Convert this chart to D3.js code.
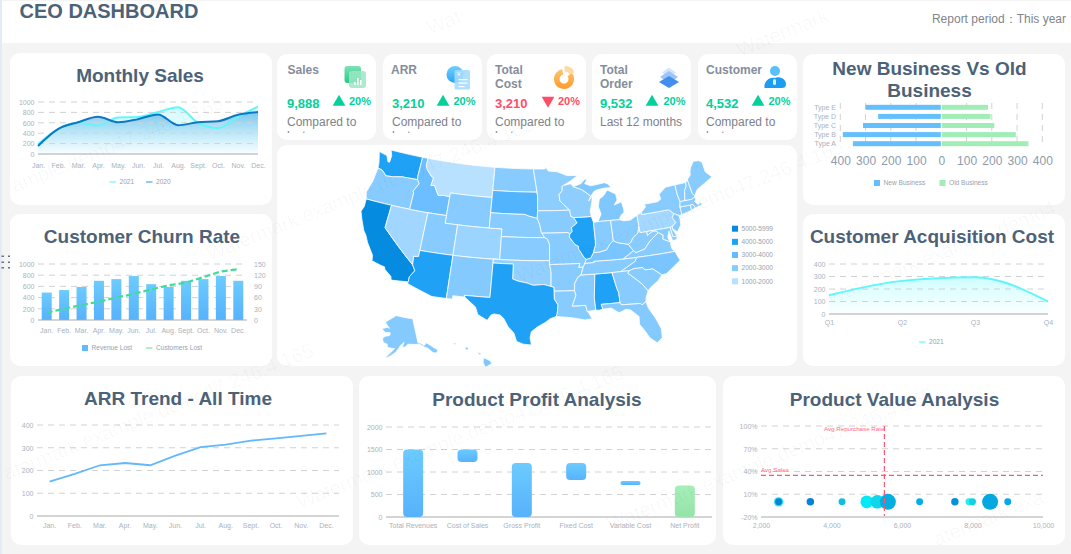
<!DOCTYPE html>
<html>
<head>
<meta charset="utf-8">
<script src="https://cdn.jsdelivr.net/npm/d3@7"></script>
<style>
  html, body { margin: 0; padding: 0; background: #f4f4f4; overflow: hidden; }
  text { font-family: "Liberation Sans", Arial, sans-serif; }
</style>
</head>
<body>
<svg id="board" width="1071" height="554"></svg>
<script>
var months = ['Jan.', 'Feb.', 'Mar.', 'Apr.', 'May.', 'Jun.', 'Jul.', 'Aug.', 'Sept.', 'Oct.', 'Nov.', 'Dec.'];

var sales2021 = [190, 480, 600, 550, 700, 710, 806, 900, 600, 500, 720, 910];
var sales2020 = [155, 480, 610, 716, 610, 670, 760, 555, 610, 630, 755, 806];

var revenueLost = [490, 535, 590, 700, 730, 785, 640, 590, 700, 730, 785, 700];
var customersLost = [20, 30, 40, 49, 60, 70, 82, 93, 100, 115, 130, 136];

var arrTrend = [151, 185, 223, 233, 223, 265, 303, 314, 331, 341, 352, 363];

var kpiTitles = [['Sales'], ['ARR'], ['Total', 'Cost'], ['Total', 'Order'], ['Customer']];
var kpiValues = ['9,888', '3,210', '3,210', '9,532', '4,532'];
var kpiDeltas = ['20%', '20%', '20%', '20%', '20%'];
var kpiRising = [true, true, false, true, true];
var kpiNotes = [['Compared to', 'last year'], ['Compared to', 'last year'], ['Compared to', 'last year'], ['Last 12 months'], ['Compared to', 'last year']];

var businessTypes = ['Type A', 'Type B', 'Type C', 'Type D', 'Type E'];
var newBusiness = [350, 390, 310, 250, 300];
var oldBusiness = [345, 295, 210, 195, 185];

var quarters = ['Q1', 'Q2', 'Q3', 'Q4'];
var acquisitionCost = [150, 265, 295, 100];

var profitItems = ['Total Revenues', 'Cost of Sales', 'Gross Profit', 'Fixed Cost', 'Variable Cost', 'Net Profit'];
var profitFrom = [0, 1225, 0, 820, 710, 0];
var profitTo = [1500, 1500, 1200, 1200, 800, 700];

var bubbleSales = [2500, 2500, 3400, 4300, 5000, 5300, 5600, 6500, 7500, 7900, 8000, 8500, 9000];
var bubbleRepurchase = [0, 0, 0, 0, 0, 0, 0, 0, 0, 0, 0, 0, 0];
var bubbleSize = [22, 12, 14, 12, 40, 46, 64, 12, 14, 12, 12, 64, 12];
var bubbleColors = ['#25e6f5', '#0a82d6', '#0583d4', '#12bde2', '#05e8f5', '#10d6ea', '#03aee0', '#06aee6', '#0490dc', '#25eef2', '#10d2e6', '#03a8e0', '#06a8e6'];
var avgSales = 5500;
var avgRepurchase = 35;

var mapLegendLabels = ['5000-5999', '4000-5000', '3000-4000', '2000-3000', '1000-2000'];
var mapLegendColors = ['#058ce0', '#1fa2f5', '#66bbff', '#88ccff', '#b8e0ff'];

var stateValues = {
  CA: 5500, WA: 4500, AZ: 4500, TX: 4500, IL: 4500, AL: 4500, SD: 3800, ID: 3300, MT: 1500, NV: 2000,
  OR: 2500, WY: 2500, UT: 2500, CO: 2100, NM: 2600, ND: 2500, NE: 2500, KS: 2500, OK: 2300, MN: 2400,
  IA: 2500, MO: 2500, AR: 2500, LA: 2500, MS: 2500, TN: 2500, KY: 2900, IN: 2500, OH: 2500, MI: 2800,
  WI: 2400, GA: 2500, FL: 2600, SC: 2500, NC: 2900, VA: 2500, WV: 2500, PA: 1900, NY: 2500, NJ: 2500,
  MD: 2500, DE: 2500, CT: 2500, RI: 2500, MA: 2500, VT: 2500, NH: 2500, ME: 2500, AK: 2600, HI: 2800
};

// coarse state outlines as lon/lat rings, neighbours share their border points
var stateRings = {
  WA: [[[-124.7, 48.4], [-123.2, 48.15], [-122.7, 47.4], [-122.4, 47.4], [-122.4, 48.3], [-122.8, 49], [-117.03, 49], [-117.04, 46.4], [-116.92, 45.99], [-119, 45.93], [-119.6, 45.92], [-121.2, 45.65], [-122.3, 45.55], [-122.8, 45.9], [-123.2, 46.15], [-124, 46.27], [-124.1, 46.9]]],
  OR: [[[-124, 46.27], [-123.2, 46.15], [-122.8, 45.9], [-122.3, 45.55], [-121.2, 45.65], [-119.6, 45.92], [-119, 45.93], [-116.92, 45.99], [-116.5, 45.5], [-117.2, 44.4], [-117.03, 44.2], [-117.03, 42], [-120, 42], [-124.2, 42], [-124.55, 42.85], [-124.1, 44.5]]],
  CA: [[[-124.2, 42], [-120, 42], [-120, 39], [-114.63, 35], [-114.14, 34.3], [-114.72, 33.4], [-114.72, 32.72], [-117.12, 32.53], [-117.3, 33], [-118.4, 33.75], [-118.5, 34.03], [-119.2, 34.15], [-120.5, 34.45], [-120.65, 35.15], [-121.9, 36.6], [-122.5, 37.5], [-123, 38], [-123.8, 39.3], [-124.35, 40.3], [-124.1, 41]]],
  NV: [[[-120, 42], [-117.03, 42], [-114.04, 42], [-114.04, 37], [-114.04, 36.2], [-114.75, 36.1], [-114.63, 35], [-120, 39]]],
  ID: [[[-117.03, 49], [-116.05, 49], [-116.05, 48], [-115.7, 47.5], [-114.7, 46.7], [-114.35, 46.65], [-114.5, 45.55], [-113.9, 45.65], [-113.45, 45.05], [-113, 44.45], [-112, 44.55], [-111.05, 44.48], [-111.05, 42], [-114.04, 42], [-117.03, 42], [-117.03, 44.2], [-117.2, 44.4], [-116.5, 45.5], [-116.92, 45.99], [-117.04, 46.4]]],
  MT: [[[-116.05, 49], [-104.05, 49], [-104.05, 45.94], [-104.05, 45], [-111.05, 45], [-111.05, 44.48], [-112, 44.55], [-113, 44.45], [-113.45, 45.05], [-113.9, 45.65], [-114.5, 45.55], [-114.35, 46.65], [-114.7, 46.7], [-115.7, 47.5], [-116.05, 48]]],
  WY: [[[-111.05, 45], [-104.05, 45], [-104.05, 43], [-104.05, 41], [-109.05, 41], [-111.05, 41], [-111.05, 42], [-111.05, 44.48]]],
  UT: [[[-114.04, 42], [-111.05, 42], [-111.05, 41], [-109.05, 41], [-109.05, 37], [-114.04, 37]]],
  CO: [[[-109.05, 41], [-104.05, 41], [-102.05, 41], [-102.05, 40], [-102.05, 37], [-103, 37], [-109.05, 37]]],
  AZ: [[[-114.04, 37], [-109.05, 37], [-109.05, 31.33], [-111.07, 31.33], [-114.8, 32.5], [-114.72, 32.72], [-114.72, 33.4], [-114.14, 34.3], [-114.63, 35], [-114.75, 36.1], [-114.04, 36.2]]],
  NM: [[[-109.05, 37], [-103, 37], [-103, 36.5], [-103.04, 32], [-106.62, 32], [-106.53, 31.78], [-108.2, 31.78], [-108.2, 31.33], [-109.05, 31.33]]],
  ND: [[[-104.05, 49], [-97.23, 49], [-96.56, 45.94], [-104.05, 45.94]]],
  SD: [[[-104.05, 45.94], [-96.56, 45.94], [-96.45, 45.3], [-96.45, 43.5], [-96.5, 42.5], [-97.9, 42.8], [-98.5, 43], [-104.05, 43], [-104.05, 45]]],
  NE: [[[-104.05, 43], [-98.5, 43], [-97.9, 42.8], [-96.5, 42.5], [-96.1, 41.7], [-95.85, 40.7], [-95.31, 40], [-102.05, 40], [-102.05, 41], [-104.05, 41]]],
  KS: [[[-102.05, 40], [-95.31, 40], [-94.9, 39.8], [-94.6, 39.1], [-94.62, 37], [-103, 37], [-102.05, 37]]],
  OK: [[[-103, 37], [-94.62, 37], [-94.62, 36.5], [-94.43, 35.4], [-94.48, 33.64], [-95.5, 33.9], [-97, 33.8], [-98, 34.1], [-99.2, 34.3], [-100, 34.56], [-100, 36.5], [-103, 36.5]]],
  TX: [[[-106.62, 32], [-103.04, 32], [-103, 36.5], [-100, 36.5], [-100, 34.56], [-99.2, 34.3], [-98, 34.1], [-97, 33.8], [-95.5, 33.9], [-94.48, 33.64], [-94.04, 33.55], [-94.04, 33.02], [-94.04, 32], [-93.55, 31.2], [-93.7, 30.1], [-93.85, 29.7], [-94.7, 29.4], [-95.4, 28.9], [-96.4, 28.35], [-97.2, 27.7], [-97.35, 26.9], [-97.15, 25.96], [-98.2, 26.05], [-99.1, 26.4], [-99.5, 27.5], [-100.3, 28.3], [-100.95, 29.35], [-101.45, 29.77], [-102.3, 29.88], [-102.7, 29.7], [-103.15, 28.98], [-104.5, 29.65], [-104.9, 30.6], [-106.53, 31.78]]],
  MN: [[[-97.23, 49], [-95.15, 49], [-95.15, 49.38], [-94.6, 48.72], [-93, 48.6], [-91.4, 48.05], [-89.5, 48], [-90.8, 47.3], [-92.1, 46.75], [-92.29, 46.65], [-92.29, 46.1], [-92.85, 45.6], [-92.75, 44.75], [-91.22, 43.5], [-96.45, 43.5], [-96.45, 45.3], [-96.56, 45.94]]],
  IA: [[[-96.45, 43.5], [-91.22, 43.5], [-91.1, 42.7], [-90.65, 42.5], [-90.15, 41.8], [-91.1, 41.2], [-91, 40.7], [-91.4, 40.38], [-91.7, 40.6], [-95.77, 40.58], [-95.85, 40.7], [-96.1, 41.7], [-96.5, 42.5]]],
  MO: [[[-95.77, 40.58], [-91.7, 40.6], [-91.4, 40.38], [-91.5, 40], [-90.7, 39], [-90.2, 38.75], [-90.2, 38.4], [-89.5, 37.3], [-89.15, 37], [-89.4, 36.5], [-89.7, 36], [-90.37, 36], [-90.15, 36.5], [-94.62, 36.5], [-94.62, 37], [-94.6, 39.1], [-94.9, 39.8], [-95.31, 40]]],
  AR: [[[-94.62, 36.5], [-90.15, 36.5], [-90.37, 36], [-89.7, 36], [-90.1, 35], [-90.6, 34.7], [-91.1, 33.9], [-91.17, 33], [-94.04, 33.02], [-94.04, 33.55], [-94.48, 33.64], [-94.43, 35.4]]],
  LA: [[[-94.04, 33.02], [-91.17, 33], [-91, 32.4], [-91.6, 31], [-89.73, 31], [-89.6, 30.2], [-89.4, 30], [-89, 29.2], [-90, 29.1], [-91.3, 29.4], [-92.3, 29.55], [-93.85, 29.7], [-93.7, 30.1], [-93.55, 31.2], [-94.04, 32]]],
  MS: [[[-91.17, 33], [-91.1, 33.9], [-90.6, 34.7], [-90.1, 35], [-88.2, 35], [-88.1, 34.9], [-88.47, 31.9], [-88.4, 30.3], [-89.6, 30.2], [-89.73, 31], [-91.6, 31], [-91, 32.4]]],
  AL: [[[-88.2, 35], [-85.6, 35], [-85.18, 32.87], [-85, 32.3], [-85, 31], [-87.6, 31], [-87.45, 30.35], [-88, 30.25], [-88.4, 30.3], [-88.47, 31.9], [-88.1, 34.9]]],
  TN: [[[-90.1, 35], [-89.7, 36], [-89.4, 36.5], [-88.05, 36.5], [-88.07, 36.68], [-83.68, 36.6], [-81.68, 36.59], [-82, 36.1], [-84.32, 35], [-85.6, 35], [-88.2, 35]]],
  KY: [[[-89.4, 36.5], [-89.15, 37], [-88.5, 37.1], [-88, 37.8], [-87.1, 37.8], [-86, 38], [-85.4, 38.7], [-84.8, 39.1], [-84.2, 38.8], [-82.6, 38.4], [-82, 37.5], [-83.68, 36.6], [-88.07, 36.68], [-88.05, 36.5]]],
  IL: [[[-90.65, 42.5], [-87.8, 42.5], [-87.55, 41.7], [-87.53, 39.35], [-87.6, 38.7], [-88, 37.8], [-88.5, 37.1], [-89.15, 37], [-89.5, 37.3], [-90.2, 38.4], [-90.2, 38.75], [-90.7, 39], [-91.5, 40], [-91.4, 40.38], [-91, 40.7], [-91.1, 41.2], [-90.15, 41.8]]],
  WI: [[[-92.29, 46.65], [-92.1, 46.75], [-90.8, 46.95], [-90.4, 46.55], [-89, 46.1], [-87.8, 45.35], [-87.6, 45.1], [-88, 44.55], [-87.3, 45.2], [-87.5, 44.3], [-87.9, 43.2], [-87.8, 42.5], [-90.65, 42.5], [-91.1, 42.7], [-91.22, 43.5], [-92.75, 44.75], [-92.85, 45.6], [-92.29, 46.1]]],
  MI: [[[-86.82, 41.76], [-84.8, 41.76], [-83.45, 41.73], [-83.1, 42.2], [-82.5, 42.6], [-82.45, 43], [-82.65, 44], [-83.9, 43.7], [-83.3, 44.3], [-83.4, 45.1], [-84.7, 45.75], [-85.5, 45], [-86.2, 44.7], [-86.5, 43.7], [-86.2, 42.7]],
    [[-90.4, 46.55], [-89, 46.9], [-88.4, 47.4], [-87.9, 47.45], [-88.4, 46.85], [-87.4, 46.5], [-86, 46.65], [-85, 46.75], [-84.4, 46.5], [-84, 46], [-85, 46.05], [-86.5, 45.9], [-87, 45.7], [-87.6, 45.1], [-87.8, 45.35], [-89, 46.1]]],
  IN: [[[-87.55, 41.7], [-86.82, 41.76], [-84.8, 41.76], [-84.8, 39.1], [-85.4, 38.7], [-86, 38], [-87.1, 37.8], [-88, 37.8], [-87.6, 38.7], [-87.53, 39.35]]],
  OH: [[[-84.8, 41.76], [-83.45, 41.73], [-82.7, 41.5], [-81.7, 41.5], [-80.52, 42], [-80.52, 40.64], [-80.85, 39.7], [-81.7, 39.2], [-82.2, 38.6], [-82.6, 38.4], [-84.2, 38.8], [-84.8, 39.1]]],
  WV: [[[-80.52, 40.64], [-80.52, 39.72], [-79.48, 39.72], [-79.48, 39.2], [-78.8, 39.55], [-78.2, 39.65], [-77.75, 39.33], [-78.35, 39], [-79.3, 38.4], [-80.3, 37.5], [-81.68, 37.2], [-82, 37.5], [-82.6, 38.4], [-82.2, 38.6], [-81.7, 39.2], [-80.85, 39.7]]],
  VA: [[[-83.68, 36.6], [-82, 37.5], [-81.68, 37.2], [-80.3, 37.5], [-79.3, 38.4], [-78.35, 39], [-77.75, 39.33], [-77.1, 38.9], [-77.3, 38.4], [-76.3, 37.9], [-76.3, 37], [-75.95, 36.55], [-81.68, 36.59]]],
  NC: [[[-81.68, 36.59], [-75.95, 36.55], [-75.5, 35.3], [-76.5, 34.7], [-77.9, 33.9], [-78.55, 33.85], [-79.67, 34.8], [-80.8, 34.82], [-81.05, 35.15], [-82.3, 35.2], [-83.1, 35], [-84.32, 35], [-82, 36.1]]],
  SC: [[[-83.1, 35], [-82.3, 35.2], [-81.05, 35.15], [-80.8, 34.82], [-79.67, 34.8], [-78.55, 33.85], [-79.2, 33.2], [-80.4, 32.5], [-80.9, 32.05], [-81.5, 33], [-82.5, 33.95], [-83.35, 34.7]]],
  GA: [[[-85.6, 35], [-84.32, 35], [-83.1, 35], [-83.35, 34.7], [-82.5, 33.95], [-81.5, 33], [-80.9, 32.05], [-81.3, 31.3], [-81.45, 30.72], [-82.05, 30.36], [-82.2, 30.57], [-84.86, 30.7], [-85, 31], [-85, 32.3], [-85.18, 32.87]]],
  FL: [[[-87.6, 31], [-85, 31], [-84.86, 30.7], [-82.2, 30.57], [-82.05, 30.36], [-81.45, 30.72], [-81.25, 29.8], [-80.55, 28.4], [-80.05, 26.9], [-80.15, 25.7], [-80.9, 25.15], [-81.75, 25.95], [-82.2, 26.9], [-82.8, 27.9], [-82.7, 28.9], [-83.7, 29.9], [-84.3, 30.05], [-85.3, 29.7], [-86.3, 30.4], [-87.45, 30.35]]],
  PA: [[[-80.52, 42], [-79.76, 42.25], [-79.76, 42], [-75.35, 42], [-74.7, 41.36], [-75.15, 40.9], [-74.75, 40.2], [-75.4, 39.8], [-75.8, 39.72], [-79.48, 39.72], [-80.52, 39.72], [-80.52, 40.64]]],
  NY: [[[-79.76, 42.25], [-78.9, 42.9], [-79.05, 43.27], [-76.8, 43.3], [-76.2, 43.55], [-76.3, 44.2], [-75, 44.95], [-73.35, 45], [-73.4, 43.6], [-73.25, 42.75], [-73.5, 42.05], [-73.5, 41.1], [-73.65, 41], [-74, 41], [-74.7, 41.36], [-75.35, 42], [-79.76, 42]],
    [[-74, 40.6], [-72, 41.05], [-73.6, 40.6]]],
  NJ: [[[-74.7, 41.36], [-74, 41], [-74, 40.45], [-74.1, 39.75], [-74.9, 38.95], [-75.5, 39.5], [-75.4, 39.8], [-74.75, 40.2], [-75.15, 40.9]]],
  MD: [[[-79.48, 39.72], [-75.8, 39.72], [-75.7, 38.46], [-75.05, 38.45], [-75.25, 38.03], [-75.9, 37.95], [-76.1, 39.3], [-76.5, 38.5], [-76.3, 37.9], [-77.3, 38.4], [-77.1, 38.9], [-77.75, 39.33], [-78.2, 39.65], [-78.8, 39.55], [-79.48, 39.2]]],
  DE: [[[-75.8, 39.72], [-75.4, 39.8], [-75.55, 39.45], [-75.05, 38.45], [-75.7, 38.46]]],
  CT: [[[-73.5, 42.05], [-71.8, 42.02], [-71.85, 41.32], [-73.65, 41], [-73.5, 41.1]]],
  RI: [[[-71.8, 42.02], [-71.38, 42.02], [-71.15, 41.5], [-71.85, 41.32]]],
  MA: [[[-73.25, 42.75], [-72.45, 42.73], [-71.3, 42.7], [-70.85, 42.87], [-70.65, 42.6], [-71, 42.3], [-70.55, 41.8], [-70.2, 42.05], [-69.95, 41.7], [-71.15, 41.5], [-71.38, 42.02], [-71.8, 42.02], [-73.5, 42.05]]],
  VT: [[[-73.35, 45], [-71.5, 45], [-71.6, 44.5], [-72.05, 44], [-72.45, 42.73], [-73.25, 42.75], [-73.4, 43.6]]],
  NH: [[[-71.5, 45], [-71.1, 45.3], [-70.98, 43.4], [-70.7, 43.05], [-70.85, 42.87], [-71.3, 42.7], [-72.45, 42.73], [-72.05, 44], [-71.6, 44.5]]],
  ME: [[[-71.1, 45.3], [-70.4, 45.8], [-70.3, 46.2], [-70, 46.7], [-69.2, 47.45], [-68.3, 47.35], [-67.8, 47.07], [-67.8, 45.7], [-67, 44.85], [-68.5, 44.3], [-70, 43.75], [-70.7, 43.05], [-70.98, 43.4]]],
  AK: [[[-141, 69.6], [-141, 60.3], [-139, 60], [-137.5, 58.9], [-135.5, 59.7], [-133.5, 58.4], [-130.1, 55.9], [-131.5, 55], [-133.5, 55.5], [-135.5, 57.5], [-137.5, 58.3], [-140, 59.7], [-144, 60], [-148, 60.3], [-150, 59.3], [-151.8, 59.3], [-150.5, 61.2], [-153, 60], [-154.3, 58.8], [-156.5, 57.2], [-160, 55.6], [-163, 54.8], [-161, 56], [-158, 58], [-157, 58.8], [-159, 58.8], [-162, 59.2], [-162, 60.2], [-165, 60.7], [-166, 62], [-164.5, 63], [-161, 63.6], [-161, 64.6], [-165, 64.5], [-168, 65.6], [-164, 66.5], [-162, 66.2], [-166.5, 68.3], [-163, 69.5], [-157, 71.2], [-152, 70.8], [-146, 70.1]]],
  HI: [[[-155.9, 20.25], [-155.1, 19.85], [-154.85, 19.5], [-155.65, 18.95], [-155.95, 19.6]],
    [[-156.7, 20.95], [-156, 20.75], [-156.4, 20.6]],
    [[-158.25, 21.55], [-157.95, 21.7], [-157.7, 21.3], [-158.1, 21.3]],
    [[-159.75, 22.1], [-159.35, 22.2], [-159.4, 21.9]]]
};

var TICK_COLOR = '#aab2bd';
var GRID_COLOR = '#d2d2d2';
var AXIS_COLOR = '#aaaaaa';
var TITLE_COLOR = '#4c6278';
var WATERMARK = 'Watermark example.demo47.246.4.165';

var board = d3.select('#board');
var defs = board.append('defs');

addGradient('fillBlue', '#6ccbff', '#57b2fb');
addGradient('fillGreen', '#a5f0b8', '#95e2aa');
addGradient('fillCyan', 'rgba(110,250,255,0.32)', 'rgba(110,250,255,0.03)');
addGradient('fillDeep', 'rgba(70,165,225,0.62)', 'rgba(120,200,240,0.02)');
addGradient('iconGreen', '#7ce3b4', '#25c987');
addGradient('iconBlue', '#6fd0ff', '#2ba4f7');
addGradient('iconOrange', '#ffc46a', '#ff9a2e');
addGradient('iconLayer', '#cfe3ff', '#3d8ff0');

board.append('rect').attr('width', 1071).attr('height', 554).attr('fill', '#f4f4f4');
board.append('rect').attr('width', 2).attr('height', 554).attr('fill', '#e5ebf6');
board.append('rect').attr('x', 2).attr('y', 1).attr('width', 1069).attr('height', 42).attr('fill', '#fff');

drawHeader();
drawGrip();

renderCards([
  [10, 53, 262, 152], [10, 214, 262, 152], [277, 145, 520, 221], [803, 54, 262, 151], [803, 214, 262, 152],
  [11, 376, 342, 169], [359, 376, 357, 169], [723, 376, 342, 169]
]);

drawMonthlySales();
drawChurn();
drawKpis();
drawMap();
drawBusiness();
drawAcquisition();
drawArr();
drawProfit();
drawValue();
drawWatermarks();

function addGradient(id, top, bottom) {
  var grad = defs.append('linearGradient').attr('id', id)
    .attr('x1', 0).attr('y1', 0).attr('x2', 0).attr('y2', 1);
  grad.append('stop').attr('offset', '0%').attr('stop-color', top);
  grad.append('stop').attr('offset', '100%').attr('stop-color', bottom);
}

function renderCards(boxes) {
  board.selectAll('.card').data(boxes).enter().append('rect')
    .attr('class', 'card')
    .attr('x', function(d) { return d[0]; })
    .attr('y', function(d) { return d[1]; })
    .attr('width', function(d) { return d[2]; })
    .attr('height', function(d) { return d[3]; })
    .attr('rx', 10)
    .attr('fill', '#fff');
}

function drawHeader() {
  board.append('text').attr('x', 19.5).attr('y', 17.5)
    .attr('font-size', 20).attr('font-weight', 'bold').attr('fill', TITLE_COLOR)
    .text('CEO DASHBOARD');
  board.append('text').attr('x', 1066).attr('y', 23).attr('text-anchor', 'end')
    .attr('font-size', 12).attr('fill', '#80858c')
    .text('Report period：This year');
}

function drawGrip() {
  var cols = [1.5, 8];
  var rows = [255.5, 261.5, 267];
  cols.forEach(function(x) {
    rows.forEach(function(y) {
      board.append('rect').attr('x', x).attr('y', y).attr('width', 2.5).attr('height', 1.5).attr('fill', '#66708a');
    });
  });
}

function drawTitle(lines, cx, baseline) {
  lines.forEach(function(line, i) {
    board.append('text').attr('x', cx).attr('y', baseline + i * 21.5)
      .attr('text-anchor', 'middle')
      .attr('font-size', 19).attr('font-weight', 'bold').attr('fill', TITLE_COLOR)
      .text(line);
  });
}

function drawGrid(y, x0, x1, ticks) {
  board.append('g').selectAll('line').data(ticks.filter(function(t) { return t !== y.domain()[0]; })).enter().append('line')
    .attr('x1', x0).attr('x2', x1)
    .attr('y1', function(d) { return y(d); })
    .attr('y2', function(d) { return y(d); })
    .attr('stroke', GRID_COLOR)
    .attr('stroke-dasharray', '6 5');
}

function styleAxis(g, fontSize) {
  g.select('.domain').remove();
  g.selectAll('.tick line').remove();
  g.selectAll('text').attr('fill', TICK_COLOR).attr('font-size', fontSize || 7)
    .style('font-family', '"Liberation Sans", Arial, sans-serif');
}

function drawLeftAxis(y, x, ticks, format) {
  var axis = d3.axisLeft(y).tickValues(ticks).tickSize(0).tickPadding(3.5).tickFormat(format || String);
  board.append('g').attr('transform', 'translate(' + x + ',0)').call(axis).call(styleAxis);
}

function drawBottomAxis(x, y, padding, fontSize) {
  var axis = d3.axisBottom(x).tickSize(0).tickPadding(padding);
  board.append('g').attr('transform', 'translate(0,' + y + ')').call(axis).call(function(g) { styleAxis(g, fontSize); });
  board.append('line').attr('x1', x.range()[0]).attr('x2', x.range()[1]).attr('y1', y).attr('y2', y)
    .attr('stroke', AXIS_COLOR);
}

function legendLine(x, y, color, label) {
  board.append('line').attr('x1', x).attr('x2', x + 6.5).attr('y1', y).attr('y2', y)
    .attr('stroke', color).attr('stroke-width', 1.5);
  legendText(x + 10, y, label);
}

function legendBox(x, y, color, label) {
  board.append('rect').attr('x', x).attr('y', y - 3).attr('width', 6).attr('height', 6).attr('fill', color);
  legendText(x + 9.5, y, label);
}

function legendText(x, y, label) {
  board.append('text').attr('x', x).attr('y', y + 2.3)
    .attr('font-size', 6.6).attr('fill', '#98a1ae').text(label);
}

function drawMonthlySales() {
  drawTitle(['Monthly Sales'], 140, 82);
  var x = d3.scalePoint().domain(months).range([38, 258]);
  var y = d3.scaleLinear().domain([0, 1000]).range([154, 102]);
  var ticks = d3.range(0, 1001, 200);
  var index = function(d, i) { return x(months[i]); };
  var line = d3.line().x(index).y(function(d) { return y(d); }).curve(d3.curveMonotoneX);
  var area = d3.area().x(index).y0(y(0)).y1(function(d) { return y(d); }).curve(d3.curveMonotoneX);

  board.append('path').attr('d', area(sales2021)).attr('fill', 'url(#fillCyan)');
  board.append('path').attr('d', area(sales2020)).attr('fill', 'url(#fillDeep)');
  drawGrid(y, 38, 258, ticks);
  drawLeftAxis(y, 38, ticks);
  drawBottomAxis(x, 154, 9);
  board.append('path').attr('d', line(sales2021)).attr('fill', 'none').attr('stroke', '#5ff7fb').attr('stroke-width', 2);
  board.append('path').attr('d', line(sales2020)).attr('fill', 'none').attr('stroke', '#0a78c8').attr('stroke-width', 2);

  legendLine(109.5, 182, '#7ffbff', '2021');
  legendLine(146, 182, '#6fb9ec', '2020');
}

function drawChurn() {
  drawTitle(['Customer Churn Rate'], 142, 243);
  var x = d3.scaleBand().domain(months).range([38, 247]);
  var y = d3.scaleLinear().domain([0, 1000]).range([320, 264]);
  var yRight = d3.scaleLinear().domain([0, 150]).range([320, 264]);
  var ticks = d3.range(0, 1001, 200);

  drawGrid(y, 38, 247, ticks);
  board.append('g').selectAll('rect').data(revenueLost).enter().append('rect')
    .attr('x', function(d, i) { return x(months[i]) + x.bandwidth() / 2 - 5; })
    .attr('y', function(d) { return y(d); })
    .attr('width', 10)
    .attr('height', function(d) { return y(0) - y(d); })
    .attr('fill', 'url(#fillBlue)');
  drawLeftAxis(y, 38, ticks);
  drawBottomAxis(x, 320, 8);

  var right = d3.axisRight(yRight).tickValues(d3.range(0, 151, 30)).tickSize(0).tickPadding(7);
  board.append('g').attr('transform', 'translate(247,0)').call(right).call(styleAxis);

  var line = d3.line()
    .x(function(d, i) { return x(months[i]) + x.bandwidth() / 2; })
    .y(function(d) { return yRight(d); });
  board.append('path').attr('d', line(customersLost)).attr('fill', 'none')
    .attr('stroke', '#3fdc9c').attr('stroke-width', 2.2).attr('stroke-dasharray', '6 3');

  legendBox(82, 348, '#62b9fb', 'Revenue Lost');
  legendLine(146, 348, '#95e9bd', 'Customers Lost');
}

function drawKpis() {
  var cardX = [277, 383, 487, 592, 698];
  var cardRight = [376, 482, 586, 691, 797];
  var textX = [287.5, 391, 495, 600, 706];
  var valueX = [287, 392, 495, 600, 706];
  var triX = [339, 443, 548, 652, 758];
  var deltaX = [349, 453.5, 558, 663.5, 768.5];
  var icons = [iconSales, iconArr, iconCost, iconOrder, iconCustomer];
  var triangle = d3.symbol().type(d3.symbolTriangle).size(70);

  cardX.forEach(function(cx, i) {
    var color = kpiRising[i] ? '#05cf9b' : '#ff4d68';
    board.append('rect').attr('x', cx).attr('y', 54).attr('width', cardRight[i] - cx).attr('height', 86).attr('rx', 10).attr('fill', '#fff');
    defs.append('clipPath').attr('id', 'kpiClip' + i)
      .append('rect').attr('x', cx).attr('y', 54).attr('width', cardRight[i] - cx).attr('height', 79);
    var g = board.append('g').attr('clip-path', 'url(#kpiClip' + i + ')');

    kpiTitles[i].forEach(function(line, j) {
      g.append('text').attr('x', textX[i]).attr('y', 74 + j * 14)
        .attr('font-size', 12).attr('font-weight', 'bold').attr('fill', '#858d9b').text(line);
    });
    g.append('text').attr('x', valueX[i]).attr('y', 108).attr('font-size', 13).attr('font-weight', 'bold')
      .attr('fill', color).text(kpiValues[i]);
    g.append('path').attr('d', triangle())
      .attr('transform', 'translate(' + triX[i] + ',' + (kpiRising[i] ? 102 : 100.5) + ') rotate(' + (kpiRising[i] ? 0 : 180) + ')')
      .attr('fill', color);
    g.append('text').attr('x', deltaX[i]).attr('y', 104.5).attr('font-size', 11).attr('font-weight', 'bold')
      .attr('fill', color).text(kpiDeltas[i]);
    kpiNotes[i].forEach(function(line, j) {
      g.append('text').attr('x', valueX[i]).attr('y', 125.5 + j * 14)
        .attr('font-size', 12).attr('fill', '#7d828c').text(line);
    });
    icons[i](g);
  });
}

function iconSales(g) {
  g.append('rect').attr('x', 344.5).attr('y', 66).attr('width', 16.5).attr('height', 17).attr('rx', 3).attr('fill', 'url(#iconGreen)');
  g.append('rect').attr('x', 349).attr('y', 71).attr('width', 17).attr('height', 17).attr('rx', 3).attr('fill', '#9be8c4').attr('opacity', 0.85);
  d3.range(3).forEach(function(k) {
    var h = [3, 7, 5][k];
    g.append('rect').attr('x', 354 + k * 3).attr('y', 85 - h).attr('width', 1.6).attr('height', h).attr('fill', '#fff');
  });
}

function iconArr(g) {
  g.append('circle').attr('cx', 455).attr('cy', 74.5).attr('r', 8.5).attr('fill', 'url(#iconBlue)');
  g.append('rect').attr('x', 454.5).attr('y', 70).attr('width', 15.5).attr('height', 19.5).attr('rx', 1.5).attr('fill', '#a5dcff').attr('opacity', 0.9);
  [79, 82.5, 86].forEach(function(y, k) {
    g.append('rect').attr('x', 458.5).attr('y', y).attr('width', k === 2 ? 6 : 9).attr('height', 1.2).attr('fill', '#fff');
  });
  g.append('text').attr('x', 457).attr('y', 76).attr('font-size', 6).attr('fill', '#fff').text('¥');
}

function iconCost(g) {
  var ring = d3.arc().innerRadius(4.5).outerRadius(10);
  g.append('path').attr('d', ring({ startAngle: 0.9, endAngle: 6.1 })).attr('transform', 'translate(564,79)').attr('fill', 'url(#iconOrange)');
  g.append('path').attr('d', ring({ startAngle: -0.05, endAngle: 1.2 })).attr('transform', 'translate(565,76)').attr('fill', '#ffd9a5');
}

function iconOrder(g) {
  var diamond = function(y, half, h, fill) {
    g.append('path').attr('d', 'M' + (669 - half) + ',' + y + 'L669,' + (y - h) + 'L' + (669 + half) + ',' + y + 'L669,' + (y + h) + 'Z').attr('fill', fill);
  };
  diamond(72.5, 7, 5, '#d4e4fd');
  diamond(77, 9, 6, '#9dc3f8');
  diamond(82, 10, 6, '#3f8ef0');
}

function iconCustomer(g) {
  g.append('circle').attr('cx', 775).attr('cy', 71).attr('r', 5).attr('fill', '#59c0fa');
  g.append('path').attr('d', 'M764.5,88C763.5,80 771,77 775,78C779,76 786,79 786,84C786,87 784,88 782,88Z').attr('fill', '#1c9df2');
  g.append('rect').attr('x', 773).attr('y', 79).attr('width', 3).attr('height', 6).attr('rx', 1.5).attr('fill', '#d9f1ff');
}

// long edges are cut up so that the borders on parallels stay on their parallel
function densify(ring) {
  var points = [];
  ring.forEach(function(p, i) {
    var next = ring[(i + 1) % ring.length];
    var steps = Math.ceil(Math.abs(next[0] - p[0]) / 1.5) || 1;
    d3.range(steps).forEach(function(k) {
      points.push([p[0] + (next[0] - p[0]) * k / steps, p[1] + (next[1] - p[1]) * k / steps]);
    });
  });
  points.push(points[0]);
  return points;
}

function stateFeature(code) {
  var polygons = stateRings[code].map(function(ring) {
    var points = densify(ring);
    if (d3.geoArea({ type: 'Polygon', coordinates: [points] }) > 2 * Math.PI) points.reverse();
    return [points];
  });
  return { type: 'Feature', id: code, geometry: { type: 'MultiPolygon', coordinates: polygons } };
}

function drawMap() {
  var features = Object.keys(stateRings).map(stateFeature);
  var lower48 = { type: 'FeatureCollection', features: features.filter(function(f) { return f.id !== 'AK' && f.id !== 'HI'; }) };
  var left = 361;
  var width = 351;
  var projection = d3.geoAlbersUsa().fitExtent([[left, 150], [left + width, 345]], lower48);
  var bounds = d3.geoPath(projection).bounds(lower48);
  var stretch = width / (bounds[1][0] - bounds[0][0]);
  var color = d3.scaleLinear().domain([1500, 2500, 3500, 4500, 5500]).range(mapLegendColors.slice().reverse()).clamp(true);

  // the reference map is wider than plain Albers, and its insets sit lower
  var insets = { AK: [9, 14], HI: [14, 20] };
  function pathFor(d) {
    var shift = insets[d.id] || [0, 0];
    var stretched = d3.geoTransform({
      point: function(x, y) {
        this.stream.point(left + (x - bounds[0][0]) * stretch + shift[0], y + shift[1]);
      }
    });
    return d3.geoPath({
      stream: function(s) { return projection.stream(stretched.stream(s)); }
    })(d);
  }

  board.append('g').selectAll('path').data(features).enter().append('path')
    .attr('d', pathFor)
    .attr('fill', function(d) { return color(stateValues[d.id]); })
    .attr('stroke', '#fff')
    .attr('stroke-width', 0.8)
    .attr('stroke-linejoin', 'round');

  var legendY = d3.scalePoint().domain(mapLegendLabels).range([228.7, 281.3]);
  mapLegendLabels.forEach(function(label, i) {
    legendBox(732, legendY(label), mapLegendColors[i], label);
  });
}

function drawBusiness() {
  drawTitle(['New Business Vs Old', 'Business'], 929.5, 75);
  var left = d3.scaleLinear().domain([0, 400]).range([941.3, 840.3]);
  var right = d3.scaleLinear().domain([0, 400]).range([941.3, 1042.3]);
  var y = d3.scaleBand().domain(businessTypes).range([148, 103]).paddingInner(0.45).paddingOuter(0.2);
  var hundreds = d3.range(100, 401, 100);

  [left, right].forEach(function(scale) {
    board.append('g').selectAll('line').data(hundreds).enter().append('line')
      .attr('x1', function(d) { return scale(d); })
      .attr('x2', function(d) { return scale(d); })
      .attr('y1', 103).attr('y2', 145)
      .attr('stroke', GRID_COLOR).attr('stroke-dasharray', '6 5');
  });

  board.append('g').selectAll('rect').data(newBusiness).enter().append('rect')
    .attr('x', function(d) { return left(d); })
    .attr('y', function(d, i) { return y(businessTypes[i]); })
    .attr('width', function(d) { return left(0) - left(d) - 0.5; })
    .attr('height', y.bandwidth())
    .attr('fill', '#64bffd');
  board.append('g').selectAll('rect').data(oldBusiness).enter().append('rect')
    .attr('x', right(0) + 0.5)
    .attr('y', function(d, i) { return y(businessTypes[i]); })
    .attr('width', function(d) { return right(d) - right(0) - 0.5; })
    .attr('height', y.bandwidth())
    .attr('fill', '#a0eeb5');

  var yAxis = d3.axisLeft(y).tickSize(0).tickPadding(0);
  board.append('g').attr('transform', 'translate(836,0)').call(yAxis).call(styleAxis);

  [left, right].forEach(function(scale, i) {
    var axis = d3.axisBottom(scale).tickValues(i ? d3.range(100, 401, 100) : d3.range(0, 401, 100)).tickSize(0).tickPadding(0);
    board.append('g').attr('transform', 'translate(0,156)').call(axis).call(function(g) {
      styleAxis(g, 12);
      g.selectAll('text').attr('fill', '#8e9baa');
    });
  });

  legendBox(874, 183, '#64bffd', 'New Business');
  legendBox(939.5, 183, '#a0eeb5', 'Old Business');
}

function drawAcquisition() {
  drawTitle(['Customer Acquisition Cost'], 932, 243);
  var x = d3.scalePoint().domain(quarters).range([829, 1048]);
  var y = d3.scaleLinear().domain([0, 400]).range([314, 264]);
  var ticks = d3.range(0, 401, 100);
  var xOf = function(d, i) { return x(quarters[i]); };
  var area = d3.area().x(xOf).y0(y(0)).y1(function(d) { return y(d); }).curve(d3.curveMonotoneX);
  var line = d3.line().x(xOf).y(function(d) { return y(d); }).curve(d3.curveMonotoneX);

  board.append('path').attr('d', area(acquisitionCost)).attr('fill', 'url(#fillCyan)');
  drawGrid(y, 829, 1048, ticks);
  drawLeftAxis(y, 829, ticks);
  drawBottomAxis(x, 314, 6);
  board.append('path').attr('d', line(acquisitionCost)).attr('fill', 'none').attr('stroke', '#5ff7fb').attr('stroke-width', 2);

  legendLine(919, 342, '#7ffbff', '2021');
}

function drawArr() {
  drawTitle(['ARR Trend - All Time'], 178, 405);
  var x = d3.scaleBand().domain(months).range([37, 339]);
  var y = d3.scaleLinear().domain([0, 400]).range([516, 425]);
  var ticks = d3.range(0, 401, 100);

  drawGrid(y, 37, 339, ticks);
  drawLeftAxis(y, 37, ticks);
  drawBottomAxis(x, 516, 7);

  var line = d3.line()
    .x(function(d, i) { return x(months[i]) + x.bandwidth() / 2; })
    .y(function(d) { return y(d); });
  board.append('path').attr('d', line(arrTrend)).attr('fill', 'none').attr('stroke', '#62b8fd').attr('stroke-width', 1.8);
}

function drawProfit() {
  drawTitle(['Product Profit Analysis'], 537, 406);
  var x = d3.scaleBand().domain(profitItems).range([386, 712]);
  var y = d3.scaleLinear().domain([0, 2000]).range([517, 427]);
  var ticks = d3.range(0, 2001, 500);

  drawGrid(y, 386, 712, ticks);
  drawLeftAxis(y, 386, ticks);
  drawBottomAxis(x, 517, 6);

  board.append('g').selectAll('rect').data(profitTo).enter().append('rect')
    .attr('x', function(d, i) { return x(profitItems[i]) + x.bandwidth() / 2 - 10; })
    .attr('y', function(d) { return y(d); })
    .attr('width', 20)
    .attr('height', function(d, i) { return y(profitFrom[i]) - y(d); })
    .attr('rx', function(d, i) { return Math.min(4, (y(profitFrom[i]) - y(d)) / 2); })
    .attr('fill', function(d, i) { return i === profitItems.length - 1 ? 'url(#fillGreen)' : 'url(#fillBlue)'; });
}

function drawValue() {
  drawTitle(['Product Value Analysis'], 894.5, 406);
  var x = d3.scaleLinear().domain([2000, 10000]).range([761, 1043]);
  var y = d3.scaleLinear().domain([-20, 100]).range([517, 426]);
  var r = d3.scaleSqrt().domain([0, d3.max(bubbleSize)]).range([0, 8]);
  var ticks = d3.range(-20, 101, 30);

  drawGrid(y, 761, 1043, ticks);
  drawLeftAxis(y, 761, ticks, function(d) { return d + '%'; });

  var xAxis = d3.axisBottom(x).tickValues(d3.range(2000, 10001, 2000)).tickFormat(d3.format(',')).tickSize(0).tickPadding(6);
  board.append('g').attr('transform', 'translate(0,517)').call(xAxis).call(styleAxis);
  board.append('line').attr('x1', 761).attr('x2', 1043).attr('y1', 517).attr('y2', 517).attr('stroke', AXIS_COLOR);

  board.append('g').selectAll('circle').data(bubbleSales).enter().append('circle')
    .attr('cx', function(d) { return x(d); })
    .attr('cy', function(d, i) { return y(bubbleRepurchase[i]); })
    .attr('r', function(d, i) { return r(bubbleSize[i]); })
    .attr('fill', function(d, i) { return bubbleColors[i]; });

  board.append('line').attr('x1', x(avgSales)).attr('x2', x(avgSales)).attr('y1', 426).attr('y2', 516)
    .attr('stroke', '#ff5572').attr('stroke-width', 1.2).attr('stroke-dasharray', '5 3');
  board.append('line').attr('x1', 761).attr('x2', 1043).attr('y1', y(avgRepurchase)).attr('y2', y(avgRepurchase))
    .attr('stroke', '#ff5572').attr('stroke-width', 1.2).attr('stroke-dasharray', '5 3');
  board.append('text').attr('x', x(avgSales)).attr('y', 431).attr('text-anchor', 'end')
    .attr('font-size', 6.2).attr('fill', '#ff6a82').text('Avg Repurchase Rate');
  board.append('text').attr('x', 761).attr('y', 472)
    .attr('font-size', 6.2).attr('fill', '#ff6a82').text('Avg Sales');
}

// faint tiled watermark, each tile trimmed to the part that falls on the page
function drawWatermarks() {
  var g = board.append('g').attr('pointer-events', 'none');
  var angle = -22 * Math.PI / 180;
  var cos = Math.cos(angle);
  var sin = Math.sin(angle);
  var inside = function(x, y) { return x > 6 && x < 1065 && y > 6 && y < 548; };

  d3.range(-2, 3).forEach(function(row) {
    d3.range(-3, 4).forEach(function(col) {
      var x = 430 + col * 310 + row * 90;
      var y = 35 + col * 22 + row * 248;
      var label = WATERMARK;
      var tile = g.append('text')
        .attr('font-size', 20)
        .attr('fill', '#000')
        .attr('fill-opacity', 0.03)
        .text(label);
      var length = tile.node().getComputedTextLength();

      while (label.length && !inside(x, y)) {
        label = label.slice(1);
        var shorter = tile.text(label).node().getComputedTextLength();
        x += (length - shorter) * cos;
        y += (length - shorter) * sin;
        length = shorter;
      }
      while (label.length && !inside(x + length * cos - 14 * sin, y + length * sin - 14 * cos)) {
        label = label.slice(0, -1);
        length = tile.text(label).node().getComputedTextLength();
      }
      if (!label.length) { tile.remove(); return; }
      tile.attr('transform', 'translate(' + x + ',' + y + ') rotate(-22)');
    });
  });
}
</script>
</body>
</html>
